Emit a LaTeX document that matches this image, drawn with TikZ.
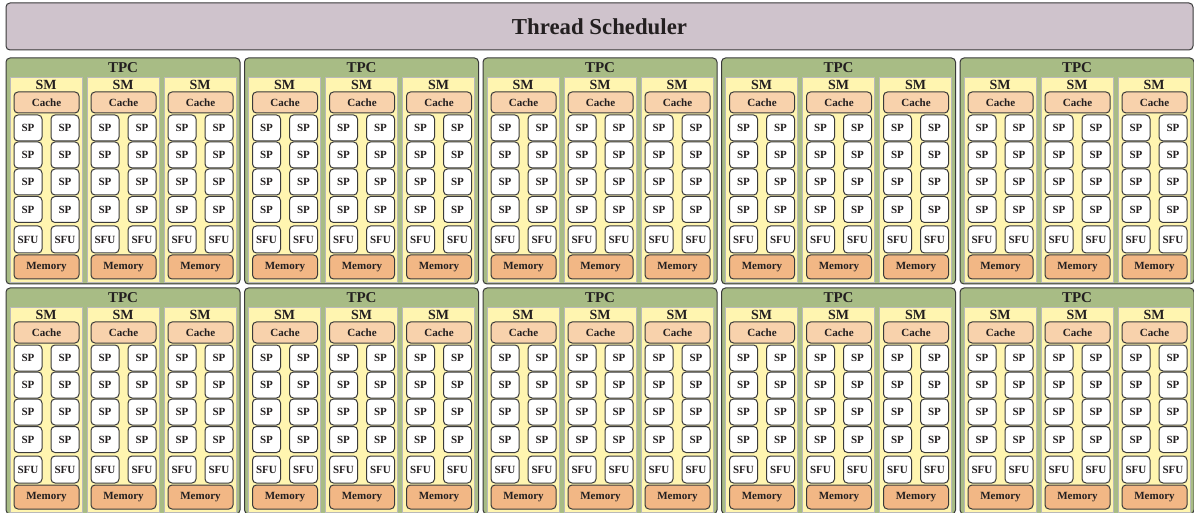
\documentclass[tikz,border=0pt]{standalone}
\usepackage{fontspec}
\setmainfont{Liberation Serif}
\usepackage{tikz}
\usetikzlibrary{positioning}
\definecolor{edgegray}{RGB}{58,58,58}
\definecolor{schedlilac}{RGB}{207,195,204}
\definecolor{tpcgreen}{RGB}{168,188,133}
\definecolor{smyellow}{RGB}{255,245,176}
\definecolor{cachepeach}{RGB}{248,210,172}
\definecolor{memorange}{RGB}{242,183,133}
\definecolor{txtdark}{RGB}{35,31,32}

\begin{document}
\begin{tikzpicture}[x=0.5pt,y=-0.5pt,
  box/.style={draw=edgegray, line width=0.5pt, rounded corners=2pt, inner sep=0pt, text=txtdark, font=\bfseries\fontsize{5.5}{6}\selectfont},
  tpcbox/.style={box, fill=tpcgreen, minimum width=117pt, minimum height=113pt},
  smbox/.style={draw=gray!55, line width=0.4pt, fill=smyellow, minimum width=36pt, minimum height=102.5pt, inner sep=0pt},
  cachebox/.style={box, fill=cachepeach, minimum width=32.5pt, minimum height=10.5pt},
  spbox/.style={box, fill=white, minimum width=14pt, minimum height=13pt},
  membox/.style={box, fill=memorange, minimum width=32.5pt, minimum height=12pt},
  lbl/.style={inner sep=0pt, text=txtdark}]
  \useasboundingbox (0,0) rectangle (1194,513);

  % Thread scheduler bar
  \node[box, fill=schedlilac, minimum width=593.5pt, minimum height=23.5pt, font=\bfseries\fontsize{11.4}{13}\selectfont] (sched) at (599.5,26.5) {Thread Scheduler};

  % 2 rows x 5 TPCs, each with 3 SMs
  \foreach \r in {0,1} {
    \foreach \c in {0,...,4} {
      \node[tpcbox] (tpc-\r-\c) at (123+238.5*\c,171+230*\r) {};
      \node[lbl, font=\bfseries\fontsize{7.5}{8}\selectfont] (tpclabel-\r-\c) at (123+238.5*\c,67.5+230*\r) {TPC};
      \foreach \s in {0,1,2} {
        \node[smbox] (sm-\r-\c-\s) at (46+238.5*\c+77*\s,179.5+230*\r) {};
        \node[lbl, font=\bfseries\fontsize{7}{8}\selectfont] (smlabel-\r-\c-\s) at (46+238.5*\c+77*\s,84.5+230*\r) {SM};
        \node[cachebox] (cache-\r-\c-\s) at (46.5+238.5*\c+77*\s,102.5+230*\r) {Cache};
        % SP cores
        \foreach \k/\yy in {1/128,2/155,3/182,4/209.5} {
          \foreach \j/\dx in {1/-18,2/19} {
            \node[spbox] (sp-\r-\c-\s-\k-\j) at (46+\dx+238.5*\c+77*\s,\yy+230*\r) {SP};
          }
        }
        % special function units
        \foreach \j/\dx in {1/-18,2/19} {
          \node[spbox, minimum height=13.5pt] (sfu-\r-\c-\s-\j) at (46+\dx+238.5*\c+77*\s,239.5+230*\r) {SFU};
        }
        \node[membox] (mem-\r-\c-\s) at (46.5+238.5*\c+77*\s,267+230*\r) {Memory};
      }
    }
  }
\end{tikzpicture}
\end{document}
